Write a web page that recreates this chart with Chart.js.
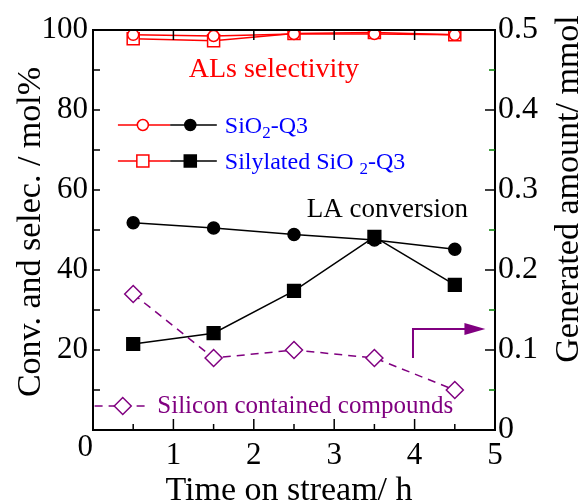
<!DOCTYPE html>
<html>
<head>
<meta charset="utf-8">
<script src="https://cdn.jsdelivr.net/npm/chart.js@4/dist/chart.umd.min.js"></script>
<style>
  html, body { margin: 0; padding: 0; background: #fff; }
  canvas { display: block; }
</style>
</head>
<body>
<canvas id="stream" width="587" height="504"></canvas>
<script>
// Tiempo en corriente (h)
var timeH = [0.5, 1.5, 2.5, 3.5, 4.5];

// Selectividad a ALs (mol%)
var selSiO2 = [98.8, 98.5, 99.0, 99.0, 98.8];
var selSilylated = [97.8, 97.3, 99.1, 99.4, 98.8];

// Conversion de LA (mol%)
var convSiO2 = [51.8, 50.5, 48.9, 47.5, 45.2];
var convSilylated = [21.5, 24.2, 34.8, 48.3, 36.3];

// Compuestos de silicio generados (mmol, eje derecho)
var siliconAmount = [0.17, 0.09, 0.10, 0.09, 0.05];

var RED = '#ff0000';
var PURPLE = '#800080';
var BLUE = '#0000ff';
var SERIF = "'Liberation Serif', 'Times New Roman', serif";

function pts(ys) {
    return timeH.map(function (x, i) { return { x: x, y: ys[i] }; });
}

// Marcas hacia adentro, titulos y anotaciones
var decorations = {
    id: 'decorations',
    beforeDraw: function (chart) {
        var ctx = chart.ctx;
        ctx.save();
        ctx.fillStyle = '#fff';
        ctx.fillRect(0, 0, chart.width, chart.height);
        ctx.restore();
    },
    afterDraw: function (chart) {
        var ctx = chart.ctx;
        var a = chart.chartArea;
        var sx = chart.scales.x, sy = chart.scales.y, sy1 = chart.scales.y1;
        ctx.save();

        // marco
        ctx.strokeStyle = '#000';
        ctx.lineWidth = 2;
        ctx.strokeRect(a.left, a.top, a.right - a.left, a.bottom - a.top);

        ctx.lineWidth = 1.5;
        function tick(x1, y1, x2, y2, color) {
            ctx.strokeStyle = color;
            ctx.beginPath();
            ctx.moveTo(x1, y1);
            ctx.lineTo(x2, y2);
            ctx.stroke();
        }
        var v, p;
        for (v = 10; v < 100; v += 10) {
            p = sy.getPixelForValue(v);
            tick(a.left, p, a.left + 7, p, '#000');
        }
        for (v = 1; v < 10; v++) {
            p = sy1.getPixelForValue(v * 0.05);
            if (v % 2 === 0) tick(a.right - 10, p, a.right, p, '#000');
            else tick(a.right - 6, p, a.right, p, '#008000');
        }
        for (v = 1; v < 10; v++) {
            p = sx.getPixelForValue(v * 0.5);
            tick(p, a.bottom, p, a.bottom - (v % 2 === 0 ? 11 : 6), '#000');
            if (v % 2 === 0) tick(p, a.top, p, a.top + 10, '#000');
        }

        // cero compartido de los ejes x e y
        ctx.fillStyle = '#000';
        ctx.font = '31px ' + SERIF;
        ctx.textAlign = 'right';
        ctx.textBaseline = 'middle';
        ctx.fillText('0', a.left, a.bottom + 18);

        // titulos de ejes
        ctx.font = '34px ' + SERIF;
        ctx.textAlign = 'center';
        ctx.textBaseline = 'alphabetic';
        ctx.fillText('Time on stream/ h', 289, 500);
        ctx.textBaseline = 'middle';
        ctx.save();
        ctx.translate(31, 232);
        ctx.rotate(-Math.PI / 2);
        ctx.fillText('Conv. and selec. / mol%', 0, 0);
        ctx.restore();
        ctx.save();
        ctx.translate(569, 189);
        ctx.rotate(-Math.PI / 2);
        ctx.fillText('Generated amount/ mmol', 0, 0);
        ctx.restore();

        // anotaciones en coordenadas de datos
        function X(t) { return sx.getPixelForValue(t); }
        function Y(t) { return sy.getPixelForValue(t); }

        ctx.font = '28px ' + SERIF;
        ctx.fillStyle = RED;
        ctx.fillText('ALs selectivity', X(2.25), Y(90));

        ctx.fillStyle = '#000';
        ctx.textAlign = 'left';
        ctx.font = '27px ' + SERIF;
        ctx.fillText('LA conversion', X(2.66), Y(55));

        // leyenda
        function sample(row, style, size) {
            var y = Y(row);
            ctx.lineWidth = 1.5;
            tick(X(0.31), y, X(0.96), y, RED);
            tick(X(0.96), y, X(1.54), y, '#000');
            ctx.strokeStyle = RED;
            ctx.fillStyle = '#fff';
            Chart.helpers.drawPoint(ctx, { pointStyle: style, radius: size, rotation: 0, borderWidth: 1.5 }, X(0.62), y);
            ctx.strokeStyle = '#000';
            ctx.fillStyle = '#000';
            Chart.helpers.drawPoint(ctx, { pointStyle: style, radius: size, rotation: 0, borderWidth: 1.5 }, X(1.21), y);
        }
        function subText(parts, x, y) {
            ctx.fillStyle = BLUE;
            ctx.textAlign = 'left';
            ctx.textBaseline = 'alphabetic';
            parts.forEach(function (pt) {
                ctx.font = (pt.sub ? '17px ' : '24px ') + SERIF;
                ctx.fillText(pt.t, x, y + (pt.sub ? 5 : 0));
                x += ctx.measureText(pt.t).width;
            });
        }
        sample(76.25, 'circle', 5.5);
        sample(67.25, 'rect', 8.5);
        subText([{ t: 'SiO' }, { t: '2', sub: true }, { t: '-Q3' }], X(1.64), Y(76.25) + 8);
        subText([{ t: 'Silylated SiO ' }, { t: '2', sub: true }, { t: '-Q3' }], X(1.64), Y(67.25) + 8);

        var ys = Y(6);
        ctx.save();
        ctx.setLineDash([8, 6]);
        ctx.lineWidth = 1.5;
        tick(X(0.02), ys, X(0.7), ys, PURPLE);
        ctx.restore();
        ctx.strokeStyle = PURPLE;
        ctx.fillStyle = '#fff';
        Chart.helpers.drawPoint(ctx, { pointStyle: 'rectRot', radius: 8.5, rotation: 0, borderWidth: 1.5 }, X(0.37), ys);
        ctx.fillStyle = PURPLE;
        ctx.font = '25px ' + SERIF;
        ctx.textAlign = 'left';
        ctx.textBaseline = 'middle';
        ctx.fillText('Silicon contained compounds', X(0.8), ys);

        // flecha hacia el eje derecho
        ctx.lineWidth = 2;
        ctx.strokeStyle = PURPLE;
        ctx.beginPath();
        ctx.moveTo(X(3.98), Y(18));
        ctx.lineTo(X(3.98), Y(25.25));
        ctx.lineTo(X(4.65), Y(25.25));
        ctx.stroke();
        ctx.beginPath();
        ctx.moveTo(X(4.88), Y(25.25));
        ctx.lineTo(X(4.62), Y(25.25) - 6);
        ctx.lineTo(X(4.62), Y(25.25) + 6);
        ctx.closePath();
        ctx.fill();

        ctx.restore();
    }
};

var tickFont = { family: SERIF, size: 31 };

var ctxStream = document.getElementById('stream').getContext('2d');
var streamChart = new Chart(ctxStream, {
    type: 'line',
    data: {
        datasets: [
            {
                label: 'SiO2-Q3 selectivity',
                data: pts(selSiO2),
                borderColor: RED, borderWidth: 1.5,
                pointStyle: 'circle', pointRadius: 5.5,
                pointBackgroundColor: '#fff', pointBorderColor: RED, pointBorderWidth: 1.5,
                yAxisID: 'y'
            },
            {
                label: 'Silylated SiO2-Q3 selectivity',
                data: pts(selSilylated),
                borderColor: RED, borderWidth: 1.5,
                pointStyle: 'rect', pointRadius: 8.5,
                pointBackgroundColor: '#fff', pointBorderColor: RED, pointBorderWidth: 1.5,
                yAxisID: 'y'
            },
            {
                label: 'SiO2-Q3 conversion',
                data: pts(convSiO2),
                borderColor: '#000', borderWidth: 1.5,
                pointStyle: 'circle', pointRadius: 6,
                pointBackgroundColor: '#000', pointBorderColor: '#000',
                yAxisID: 'y'
            },
            {
                label: 'Silylated SiO2-Q3 conversion',
                data: pts(convSilylated),
                borderColor: '#000', borderWidth: 1.5,
                pointStyle: 'rect', pointRadius: 9,
                pointBackgroundColor: '#000', pointBorderColor: '#000',
                yAxisID: 'y'
            },
            {
                label: 'Silicon contained compounds',
                data: pts(siliconAmount),
                borderColor: PURPLE, borderWidth: 1.5, borderDash: [8, 6],
                pointStyle: 'rectRot', pointRadius: 8.5,
                pointBackgroundColor: '#fff', pointBorderColor: PURPLE, pointBorderWidth: 1.5,
                yAxisID: 'y1'
            }
        ]
    },
    options: {
        responsive: false,
        animation: false,
        devicePixelRatio: 1,
        layout: { padding: { top: 30, left: 0, right: 0, bottom: 0 } },
        plugins: { legend: { display: false }, tooltip: { enabled: false } },
        scales: {
            x: {
                type: 'linear', min: 0, max: 5, position: 'bottom',
                grid: { display: false, drawTicks: false },
                border: { display: false },
                ticks: {
                    stepSize: 1, font: tickFont, color: '#000', padding: 7, maxRotation: 0,
                    callback: function (v) { return v === 0 ? '' : v; }
                },
                afterFit: function (s) { s.height = 74; }
            },
            y: {
                min: 0, max: 100, position: 'left',
                grid: { display: false, drawTicks: false },
                border: { display: false },
                ticks: {
                    stepSize: 20, font: tickFont, color: '#000', padding: 5,
                    callback: function (v) { return v === 0 ? '' : v; }
                },
                afterFit: function (s) { s.width = 93; }
            },
            y1: {
                min: 0, max: 0.5, position: 'right',
                grid: { display: false, drawTicks: false },
                border: { display: false },
                ticks: {
                    stepSize: 0.1, font: { family: SERIF, size: 32 }, color: '#000', padding: 3,
                    callback: function (v) { return v === 0 ? '0' : v.toFixed(1); }
                },
                afterFit: function (s) { s.width = 92; }
            }
        }
    },
    plugins: [decorations]
});
</script>
</body>
</html>
